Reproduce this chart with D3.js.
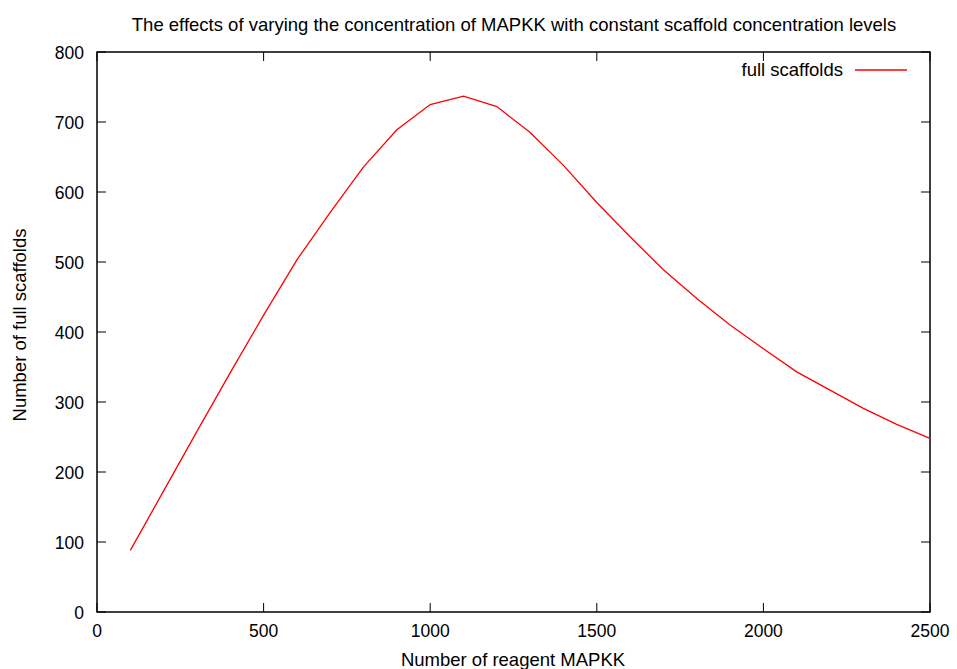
<!DOCTYPE html>
<html><head><meta charset="utf-8">
<script src="https://cdn.jsdelivr.net/npm/d3@7"></script>
<style>body{margin:0;background:#fff;} text{font-family:"Liberation Sans",Arial,sans-serif;fill:#000;}</style>
</head><body>
<svg id="c" width="957" height="669"></svg>
<script>
const xValues = [100,200,300,400,500,600,700,800,900,1000,1100,1200,1300,1400,1500,1600,1700,1800,1900,2000,2100,2200,2300,2400,2500];
const fullScaffolds = [88,173,258,342,424,503,571,636,689,725,737,722,685,638,585,536,489,448,410,376,343,317,291,268,248];
const xTicks = [0,500,1000,1500,2000,2500];
const yTicks = [0,100,200,300,400,500,600,700,800];
const seriesName = "full scaffolds";

const svg = d3.select("#c");
const m = {l:97, r:930, t:52, b:612};
const x = d3.scaleLinear().domain([0,2500]).range([m.l,m.r]);
const y = d3.scaleLinear().domain([0,800]).range([m.b,m.t]);
const tl = 9;
const fsTick = 17.5, fsText = 18.5;

svg.append("rect").attr("x",m.l).attr("y",m.t).attr("width",m.r-m.l).attr("height",m.b-m.t)
  .attr("fill","none").attr("stroke","#000").attr("stroke-width",1.5);

const g = svg.append("g").attr("stroke","#000").attr("stroke-width",1);
xTicks.forEach(v=>{
  g.append("line").attr("x1",x(v)).attr("x2",x(v)).attr("y1",m.b).attr("y2",m.b-tl);
  g.append("line").attr("x1",x(v)).attr("x2",x(v)).attr("y1",m.t).attr("y2",m.t+tl);
  svg.append("text").attr("x",x(v)).attr("y",m.b+25).attr("text-anchor","middle").attr("font-size",fsTick).text(v);
});
yTicks.forEach(v=>{
  g.append("line").attr("y1",y(v)).attr("y2",y(v)).attr("x1",m.l).attr("x2",m.l+tl);
  g.append("line").attr("y1",y(v)).attr("y2",y(v)).attr("x1",m.r).attr("x2",m.r-tl);
  svg.append("text").attr("x",m.l-13).attr("y",y(v)+7).attr("text-anchor","end").attr("font-size",fsTick).text(v);
});

const line = d3.line().x((d,i)=>x(xValues[i])).y(d=>y(d));
svg.append("path").datum(fullScaffolds).attr("d",line).attr("fill","none").attr("stroke","#ff0000").attr("stroke-width",1.3);

svg.append("text").attr("x",514).attr("y",31).attr("text-anchor","middle").attr("font-size",fsText)
  .text("The effects of varying the concentration of MAPKK with constant scaffold concentration levels");
svg.append("text").attr("x",513).attr("y",666).attr("text-anchor","middle").attr("font-size",fsText).text("Number of reagent MAPKK");
svg.append("text").attr("transform","translate(26,325) rotate(-90)").attr("text-anchor","middle").attr("font-size",fsText).text("Number of full scaffolds");

svg.append("text").attr("x",843).attr("y",76).attr("text-anchor","end").attr("font-size",fsText).text(seriesName);
svg.append("line").attr("x1",855).attr("x2",907).attr("y1",70).attr("y2",70).attr("stroke","#ff0000").attr("stroke-width",1.3);
</script>
</body></html>
